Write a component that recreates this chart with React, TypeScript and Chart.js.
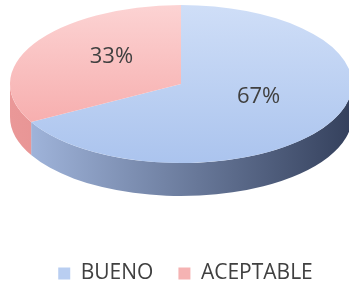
import React, { useEffect, useRef } from "react";
import { Chart, registerables } from "chart.js";

Chart.register(...registerables);

const categories = ["BUENO", "ACEPTABLE"];
const values = [67, 33];
const topColors = [
  ["#cfdef7", "#abc4ee"],
  ["#fcd3d3", "#f5a2a2"],
];
const sideColors = [
  ["#a6bbe2", "#34405c"],
  ["#ea9898", "#d07676"],
];
const legendColors = ["#b9cef1", "#f5b3b3"];

// view geometry of the tilted pie (screen pixels)
const EX = 181;
const EY = 84;
const RX = 171;
const RY = 79;
const DEPTH = 33;
const LABEL_DX = 4;
const LABEL_DY = -7;
const FONT = '"Open Sans", sans-serif';

const pie3d = {
  id: "pie3d",
  beforeDatasetsDraw(chart: any) {
    const meta = chart.getDatasetMeta(0);
    const arcs = meta.data;
    if (!arcs.length) return;
    const ctx = chart.ctx;
    const first = arcs[0];
    const cx = first.x, cy = first.y, r = first.outerRadius;
    arcs.forEach((arc: any, i: number) => {
      const a1 = Math.max(arc.startAngle, 0);
      const a2 = Math.min(arc.endAngle, Math.PI);
      if (a2 <= a1) return;
      const g = ctx.createLinearGradient(EX - RX, 0, EX + RX, 0);
      g.addColorStop(0, sideColors[i][0]);
      g.addColorStop(1, sideColors[i][1]);
      ctx.save();
      ctx.beginPath();
      ctx.ellipse(EX, EY, RX, RY, 0, a1, a2, false);
      ctx.ellipse(EX, EY + DEPTH, RX, RY, 0, a2, a1, true);
      ctx.closePath();
      ctx.fillStyle = g;
      ctx.fill();
      ctx.restore();
    });
    ctx.save();
    ctx.translate(EX, EY);
    ctx.scale(RX / r, RY / r);
    ctx.translate(-cx, -cy);
  },
  afterDatasetsDraw(chart: any) {
    const meta = chart.getDatasetMeta(0);
    const arcs = meta.data;
    if (!arcs.length) return;
    const ctx = chart.ctx;
    ctx.restore();
    const first = arcs[0];
    const cx = first.x, cy = first.y, r = first.outerRadius;
    const total = values.reduce((s, v) => s + v, 0);
    ctx.save();
    ctx.font = `22px ${FONT}`;
    ctx.fillStyle = "#404040";
    ctx.textAlign = "center";
    ctx.textBaseline = "middle";
    arcs.forEach((arc: any, i: number) => {
      const p = arc.tooltipPosition();
      const x = EX + ((p.x - cx) * RX) / r + LABEL_DX;
      const y = EY + ((p.y - cy) * RY) / r + LABEL_DY;
      ctx.fillText(Math.round((values[i] / total) * 100) + "%", x, y);
    });
    ctx.restore();
  },
};

export default function App() {
  const ref = useRef<HTMLCanvasElement>(null);
  useEffect(() => {
    if (!ref.current) return;
    const chart = new Chart(ref.current, {
      type: "pie",
      data: {
        labels: categories,
        datasets: [
          {
            data: values,
            borderWidth: 0,
            clip: false as any,
            backgroundColor: (c: any) => {
              const i = c.dataIndex ?? 0;
              const ch = c.chart;
              const a = ch.chartArea;
              if (!a) return topColors[i][1];
              const cyc = (a.top + a.bottom) / 2;
              const r = Math.min(a.width, a.height) / 2;
              const g = ch.ctx.createLinearGradient(0, cyc - r, 0, cyc + r);
              g.addColorStop(0, topColors[i][0]);
              g.addColorStop(1, topColors[i][1]);
              return g;
            },
          },
        ],
      },
      options: {
        responsive: false,
        animation: false,
        layout: { padding: { left: 22, bottom: -6 } },
        plugins: {
          tooltip: { enabled: false },
          legend: {
            position: "bottom",
            labels: {
              font: { family: FONT, size: 21 },
              color: "#404040",
              boxWidth: 12,
              boxHeight: 12,
              padding: 25,
              generateLabels: () =>
                categories.map((t, i) => ({
                  text: t,
                  fillStyle: legendColors[i],
                  strokeStyle: legendColors[i],
                  lineWidth: 0,
                  hidden: false,
                  index: i,
                  fontColor: "#404040",
                })),
            },
          },
        },
      },
      plugins: [pie3d],
    });
    return () => chart.destroy();
  }, []);
  return (
    <div style={{ position: "fixed", left: 0, top: 0, width: 349, height: 288, background: "#fff" }}>
      <canvas ref={ref} width={349} height={288} style={{ display: "block" }} />
    </div>
  );
}
